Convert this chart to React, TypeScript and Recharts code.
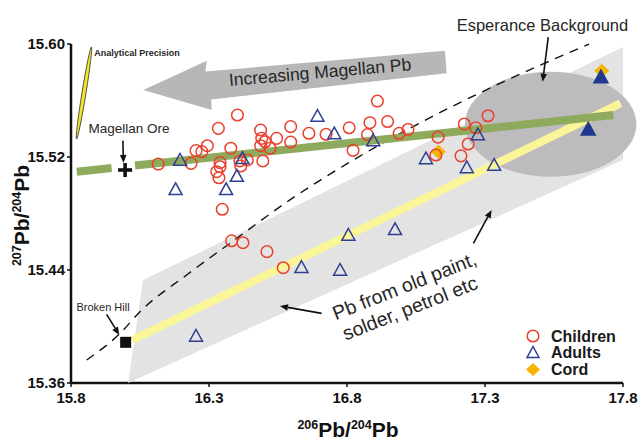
import React from "react";
import { Scatter, ScatterChart, XAxis, YAxis } from "recharts";

type Pt = { x: number; y: number };

const X_TICKS = [15.8, 16.3, 16.8, 17.3, 17.8];
const Y_TICKS = [15.36, 15.44, 15.52, 15.6];

// measured samples (206Pb/204Pb, 207Pb/204Pb)
const children: Pt[] = [
  { x: 16.116, y: 15.515 }, { x: 16.235, y: 15.5155 }, { x: 16.253, y: 15.5245 }, { x: 16.274, y: 15.5238 },
  { x: 16.294, y: 15.528 }, { x: 16.334, y: 15.5403 }, { x: 16.403, y: 15.5497 }, { x: 16.379, y: 15.5262 },
  { x: 16.34, y: 15.516 }, { x: 16.34, y: 15.5131 }, { x: 16.328, y: 15.5096 }, { x: 16.336, y: 15.5053 },
  { x: 16.348, y: 15.483 }, { x: 16.412, y: 15.5172 }, { x: 16.415, y: 15.5136 }, { x: 16.439, y: 15.5179 },
  { x: 16.487, y: 15.5391 }, { x: 16.491, y: 15.5332 }, { x: 16.503, y: 15.5308 }, { x: 16.487, y: 15.528 },
  { x: 16.521, y: 15.5262 }, { x: 16.495, y: 15.5172 }, { x: 16.545, y: 15.5332 }, { x: 16.596, y: 15.5415 },
  { x: 16.596, y: 15.5306 }, { x: 16.662, y: 15.5368 }, { x: 16.724, y: 15.5361 }, { x: 16.808, y: 15.5407 },
  { x: 16.822, y: 15.5247 }, { x: 16.883, y: 15.5443 }, { x: 16.91, y: 15.5596 }, { x: 16.947, y: 15.5451 },
  { x: 16.874, y: 15.5359 }, { x: 16.989, y: 15.5368 }, { x: 17.021, y: 15.5395 }, { x: 17.13, y: 15.534 },
  { x: 17.225, y: 15.5434 }, { x: 17.267, y: 15.5407 }, { x: 17.311, y: 15.5492 }, { x: 17.239, y: 15.5292 },
  { x: 17.213, y: 15.5208 }, { x: 16.382, y: 15.4607 }, { x: 16.423, y: 15.4593 }, { x: 16.51, y: 15.453 },
  { x: 16.569, y: 15.4416 }, { x: 17.122, y: 15.5214 },
];

const adults: Pt[] = [
  { x: 16.195, y: 15.5179 }, { x: 16.179, y: 15.4971 }, { x: 16.421, y: 15.5191 }, { x: 16.401, y: 15.5065 },
  { x: 16.362, y: 15.4971 }, { x: 16.693, y: 15.549 }, { x: 16.754, y: 15.5366 }, { x: 16.895, y: 15.5317 },
  { x: 17.086, y: 15.5189 }, { x: 17.274, y: 15.5359 }, { x: 17.234, y: 15.5126 }, { x: 17.333, y: 15.5143 },
  { x: 16.635, y: 15.442 }, { x: 16.775, y: 15.44 }, { x: 16.805, y: 15.4648 }, { x: 16.974, y: 15.4688 },
  { x: 16.253, y: 15.3933 },
];

const adultsEsperance: Pt[] = [{ x: 17.72, y: 15.5766 }, { x: 17.674, y: 15.5396 }];
const cord: Pt[] = [{ x: 17.723, y: 15.5811 }, { x: 17.131, y: 15.5238 }];

const magellanOre: Pt[] = [{ x: 15.996, y: 15.5108 }];
const brokenHill: Pt[] = [{ x: 15.998, y: 15.3888 }];

// reference lines / fields
const growthCurve: Pt[] = [
  { x: 15.857, y: 15.3763 }, { x: 15.978, y: 15.3952 }, { x: 16.05, y: 15.4105 }, { x: 16.219, y: 15.4365 },
  { x: 16.376, y: 15.4589 }, { x: 16.593, y: 15.4896 }, { x: 16.823, y: 15.5179 }, { x: 17.016, y: 15.5391 },
  { x: 17.342, y: 15.571 }, { x: 17.677, y: 15.5999 },
];
const magellanTrendWest: Pt[] = [{ x: 15.821, y: 15.5096 }, { x: 15.947, y: 15.5122 }];
const magellanTrendEast: Pt[] = [{ x: 16.032, y: 15.514 }, { x: 17.765, y: 15.5497 }];
const paintTrend: Pt[] = [{ x: 16.022, y: 15.3904 }, { x: 17.791, y: 15.558 }];
const paintField: Pt[] = [
  { x: 16.007, y: 15.36 }, { x: 16.061, y: 15.4329 }, { x: 17.8, y: 15.5979 }, { x: 17.8, y: 15.5179 },
];
// centre, then upper-left corner of the bounding box
const esperanceField: Pt[] = [{ x: 17.538, y: 15.5432 }, { x: 17.2275, y: 15.5804 }];
const precisionEllipse: Pt[] = [{ x: 15.874, y: 15.5979 }, { x: 15.82, y: 15.5327 }];
const magellanArrow: Pt[] = [
  { x: 16.062, y: 15.5674 }, { x: 16.292, y: 15.5882 }, { x: 16.287, y: 15.5805 }, { x: 17.155, y: 15.5953 },
  { x: 17.161, y: 15.5793 }, { x: 16.308, y: 15.5607 }, { x: 16.31, y: 15.5533 },
];

const pointers: Pt[][] = [
  [{ x: 15.988, y: 15.5316 }, { x: 15.99, y: 15.5158 }],
  [{ x: 15.929, y: 15.4086 }, { x: 15.975, y: 15.394 }],
  [{ x: 17.526, y: 15.5999 }, { x: 17.509, y: 15.5733 }],
  [{ x: 16.708, y: 15.4093 }, { x: 16.557, y: 15.4145 }],
  [{ x: 17.258, y: 15.4589 }, { x: 17.324, y: 15.4825 }],
];
const POINTER_LEAD = [0, 0, 7, 0, 0];

const notes = [
  { x: 15.884, y: 15.5938, text: "Analytical Precision" },
  { x: 16.01, y: 15.5403, text: "Magellan Ore" },
  { x: 15.916, y: 15.4136, text: "Broken Hill" },
  { x: 16.702, y: 15.5802, text: "Increasing Magellan Pb" },
  { x: 17.508, y: 15.6, text: "Esperance Background" },
  { x: 17.008, y: 15.4287, text: "Pb from old paint," },
  { x: 17.028, y: 15.4131, text: "solder, petrol etc" },
];

const NOTE_STYLE: Record<string, { size: number; bold?: boolean; start?: boolean; angle?: number; lift?: number }> = {
  "Analytical Precision": { size: 9, bold: true, start: true },
  "Magellan Ore": { size: 13.5 },
  "Broken Hill": { size: 11 },
  "Increasing Magellan Pb": { size: 17.5, angle: -5 },
  "Esperance Background": { size: 16.5, lift: 19 },
  "Pb from old paint,": { size: 19.5, angle: -21.5 },
  "solder, petrol etc": { size: 19.5, angle: -21.5 },
};

const FONT = '"Liberation Sans", Arial, Helvetica, sans-serif';
const RED = "#e8412c";
const BLUE = "#2d3f92";
const NAVY = "#1f3a8f";
const GOLD = "#f6b400";
const GREEN = "#8eaa5c";
const YELLOW = "#fbf59a";
const INK = "#111";

const Hidden = () => <g />;

const polygonLine = (fill: string) => (p: any) => (
  <polygon points={p.points.map((q: any) => `${q.x},${q.y}`).join(" ")} fill={fill} stroke="none" />
);

const ellipseLine = (fill: string) => (p: any) => {
  const [c, k] = p.points;
  return <ellipse cx={c.x} cy={c.y} rx={Math.abs(c.x - k.x)} ry={Math.abs(c.y - k.y)} fill={fill} />;
};

const precisionLine = (p: any) => {
  const [a, b] = p.points;
  const mx = (a.x + b.x) / 2;
  const my = (a.y + b.y) / 2;
  const len = Math.hypot(b.x - a.x, b.y - a.y);
  const ang = (Math.atan2(b.y - a.y, b.x - a.x) * 180) / Math.PI;
  return (
    <ellipse cx={mx} cy={my} rx={len / 2} ry={2} transform={`rotate(${ang} ${mx} ${my})`}
      fill="#f2e62a" stroke="#3a3a2a" strokeWidth={0.8} />
  );
};

const pointerLine = (lead: number) => (p: any) => {
  const [a, b] = p.points;
  const dx = b.x - a.x;
  const dy = b.y - a.y;
  const len = Math.hypot(dx, dy) || 1;
  const ux = dx / len;
  const uy = dy / len;
  const sx = a.x - ux * lead;
  const sy = a.y - uy * lead;
  const bx = b.x - ux * 8;
  const by = b.y - uy * 8;
  return (
    <g>
      <line x1={sx} y1={sy} x2={bx} y2={by} stroke={INK} strokeWidth={1.6} />
      <polygon points={`${b.x},${b.y} ${bx - uy * 3.3},${by + ux * 3.3} ${bx + uy * 3.3},${by - ux * 3.3}`} fill={INK} />
    </g>
  );
};

const CircleMark = (p: any) => <circle cx={p.cx} cy={p.cy} r={5.8} fill="none" stroke={RED} strokeWidth={1.5} />;

const triangle = (fill: string, s: number) => (p: any) => (
  <polygon
    points={`${p.cx},${p.cy - s} ${p.cx - s},${p.cy + s * 0.8} ${p.cx + s},${p.cy + s * 0.8}`}
    fill={fill} stroke={fill === "none" ? BLUE : NAVY} strokeWidth={1.5} strokeLinejoin="miter"
  />
);

const DiamondMark = (p: any) => (
  <polygon points={`${p.cx},${p.cy - 7} ${p.cx + 7.5},${p.cy} ${p.cx},${p.cy + 7} ${p.cx - 7.5},${p.cy}`} fill={GOLD} />
);

const CrossMark = (p: any) => (
  <g stroke={INK} strokeWidth={3.6}>
    <line x1={p.cx - 7} y1={p.cy} x2={p.cx + 7} y2={p.cy} />
    <line x1={p.cx} y1={p.cy - 7} x2={p.cx} y2={p.cy + 7} />
  </g>
);

const SquareMark = (p: any) => <rect x={p.cx - 5.5} y={p.cy - 5.5} width={11} height={11} fill={INK} />;

const NoteMark = (p: any) => {
  const text = p.payload.text as string;
  const st = NOTE_STYLE[text];
  const y = p.cy - (st.lift ?? 0);
  return (
    <text
      x={p.cx} y={y} dy="0.35em" textAnchor={st.start ? "start" : "middle"}
      transform={st.angle ? `rotate(${st.angle} ${p.cx} ${y})` : undefined}
      fontFamily={FONT} fontSize={st.size} fontWeight={st.bold ? 700 : 400} fill="#262626"
    >
      {text}
    </text>
  );
};

const titleStyle = { fontFamily: FONT, fontWeight: 700, fill: INK } as const;

const XTitle = (props: any) => {
  const vb = props.viewBox;
  const cx = vb.x + vb.width / 2 + 1;
  const by = vb.y + 54;
  return (
    <text x={cx} y={by} textAnchor="middle" fontSize={21} {...titleStyle}>
      <tspan fontSize={12.5} dy={-8}>206</tspan>
      <tspan dy={8}>Pb/</tspan>
      <tspan fontSize={12.5} dy={-8}>204</tspan>
      <tspan dy={8}>Pb</tspan>
    </text>
  );
};

const YTitle = (props: any) => {
  const vb = props.viewBox;
  const cx = 29;
  const cy = vb.y + vb.height / 2 + 2;
  return (
    <text x={cx} y={cy} textAnchor="middle" fontSize={21} transform={`rotate(-90 ${cx} ${cy})`} {...titleStyle}>
      <tspan fontSize={12.5} dy={-8}>207</tspan>
      <tspan dy={8}>Pb/</tspan>
      <tspan fontSize={12.5} dy={-8}>204</tspan>
      <tspan dy={8}>Pb</tspan>
    </text>
  );
};

const tickStyle = { fill: INK, fontSize: 15, fontWeight: 700, fontFamily: FONT };

function LegendBox() {
  const rows = [
    { label: "Children", y: 336 },
    { label: "Adults", y: 352.5 },
    { label: "Cord", y: 369.5 },
  ];
  return (
    <svg width={641} height={441} style={{ position: "absolute", left: 0, top: 0, pointerEvents: "none" }}>
      <circle cx={533} cy={rows[0].y} r={5.8} fill="none" stroke={RED} strokeWidth={1.5} />
      <polygon points={`533,${rows[1].y - 6} 527,${rows[1].y + 5} 539,${rows[1].y + 5}`} fill="none" stroke={BLUE} strokeWidth={1.5} />
      <polygon points={`533,${rows[2].y - 6.5} 540,${rows[2].y} 533,${rows[2].y + 6.5} 526,${rows[2].y}`} fill={GOLD} />
      {rows.map((r) => (
        <text key={r.label} x={551} y={r.y} dy="0.36em" fontFamily={FONT} fontWeight={700} fontSize={16} fill="#1a1a1a">
          {r.label}
        </text>
      ))}
    </svg>
  );
}

export default function App() {
  return (
    <div style={{ position: "relative", width: 641, height: 441, background: "#fff" }}>
      <style>{"body{margin:0}"}</style>
      <ScatterChart width={641} height={441} margin={{ top: 44, right: 18, bottom: 0, left: 0 }}>
        <XAxis
          dataKey="x" type="number" domain={[15.8, 17.8]} ticks={X_TICKS} height={58}
          tickFormatter={(v: number) => v.toFixed(1)} tick={tickStyle} tickSize={4} tickMargin={5}
          axisLine={{ stroke: INK, strokeWidth: 2.5 }} tickLine={{ stroke: INK, strokeWidth: 1.5 }}
          label={{ content: XTitle }}
        />
        <YAxis
          dataKey="y" type="number" domain={[15.36, 15.6]} ticks={Y_TICKS} width={71}
          tickFormatter={(v: number) => v.toFixed(2)} tick={tickStyle} tickSize={4}
          axisLine={{ stroke: INK, strokeWidth: 2.5 }} tickLine={{ stroke: INK, strokeWidth: 1.5 }}
          label={{ content: YTitle }}
        />

        <Scatter data={paintField} shape={Hidden} line={polygonLine("#e3e3e3")} isAnimationActive={false} legendType="none" />
        <Scatter data={esperanceField} shape={Hidden} line={ellipseLine("#bdbbbd")} isAnimationActive={false} legendType="none" />
        <Scatter
          data={growthCurve} shape={Hidden} lineJointType="monotoneX"
          line={{ stroke: INK, strokeWidth: 1.4, strokeDasharray: "9 7", fill: "none" }}
          isAnimationActive={false} legendType="none"
        />
        <Scatter data={magellanArrow} shape={Hidden} line={polygonLine("#b7b7b7")} isAnimationActive={false} legendType="none" />
        <Scatter data={precisionEllipse} shape={Hidden} line={precisionLine} isAnimationActive={false} legendType="none" />
        <Scatter data={paintTrend} shape={Hidden} line={{ stroke: YELLOW, strokeWidth: 8 }} isAnimationActive={false} legendType="none" />
        <Scatter data={magellanTrendWest} shape={Hidden} line={{ stroke: GREEN, strokeWidth: 8 }} isAnimationActive={false} legendType="none" />
        <Scatter data={magellanTrendEast} shape={Hidden} line={{ stroke: GREEN, strokeWidth: 8 }} isAnimationActive={false} legendType="none" />

        <Scatter data={magellanOre} shape={CrossMark} isAnimationActive={false} legendType="none" />
        <Scatter data={brokenHill} shape={SquareMark} isAnimationActive={false} legendType="none" />
        <Scatter name="Cord" data={cord} shape={DiamondMark} isAnimationActive={false} />
        <Scatter name="Children" data={children} shape={CircleMark} isAnimationActive={false} />
        <Scatter name="Adults" data={adults} shape={triangle("none", 6.5)} isAnimationActive={false} />
        <Scatter data={adultsEsperance} shape={triangle(NAVY, 7)} isAnimationActive={false} legendType="none" />

        {pointers.map((seg, i) => (
          <Scatter key={i} data={seg} shape={Hidden} line={pointerLine(POINTER_LEAD[i])} isAnimationActive={false} legendType="none" />
        ))}
        <Scatter data={notes} shape={NoteMark} isAnimationActive={false} legendType="none" />
      </ScatterChart>
      <LegendBox />
    </div>
  );
}
